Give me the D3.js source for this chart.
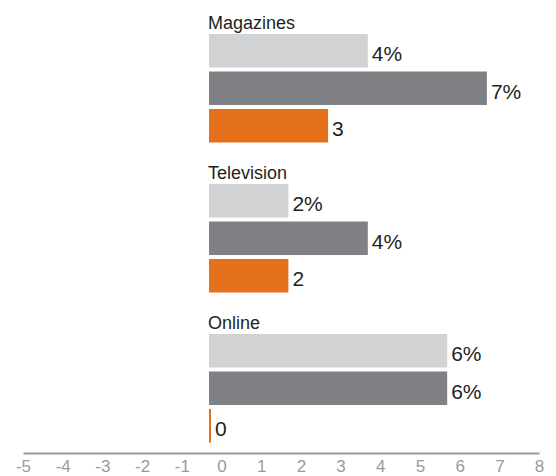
<!DOCTYPE html>
<html>
<head>
<meta charset="utf-8">
<script src="https://cdn.jsdelivr.net/npm/d3@7"></script>
<style>
  html, body { margin: 0; padding: 0; background: #fff; }
  svg { display: block; font-family: "Liberation Sans", Arial, Helvetica, sans-serif; }
</style>
</head>
<body>
<svg id="chart" width="556" height="476"></svg>
<script>
const categories = ["Magazines", "Television", "Online"];
const seriesNames = ["light", "dark", "orange"];
const lightValues = [4, 2, 6];
const darkValues = [7, 4, 6];
const orangeValues = [3, 2, 0];
const tickValues = [-5, -4, -3, -2, -1, 0, 1, 2, 3, 4, 5, 6, 7, 8];
const seriesSuffix = { light: "%", dark: "%", orange: "" };
const colors = { light: "#d1d2d4", dark: "#808184", orange: "#e5711d" };

const seriesValues = { light: lightValues, dark: darkValues, orange: orangeValues };

const svg = d3.select("#chart");

const x = d3.scaleLinear().domain([-5, 8]).range([10.5, 526.6]);

const yGroup = d3.scaleBand().domain(categories).range([34, 484]).paddingInner(0).paddingOuter(0);
const ySeries = d3.scaleBand().domain(seriesNames).range([0, 108.5]).paddingInner(0.1067).paddingOuter(0);

const groups = svg.selectAll("g.group")
  .data(categories)
  .join("g")
  .attr("class", "group")
  .attr("transform", d => `translate(0,${yGroup(d)})`);

groups.append("text")
  .attr("x", x(0) - 1)
  .attr("y", -5)
  .attr("font-size", 18)
  .attr("fill", "#231f20")
  .text(d => d);

groups.each(function(cat, ci) {
  const g = d3.select(this);
  const rows = seriesNames.map(s => ({ s, v: seriesValues[s][ci] }));
  g.selectAll("rect")
    .data(rows)
    .join("rect")
    .attr("x", x(0))
    .attr("y", d => ySeries(d.s))
    .attr("width", d => Math.max(x(d.v) - x(0), 2))
    .attr("height", ySeries.bandwidth())
    .attr("fill", d => colors[d.s]);
  g.selectAll("text.val")
    .data(rows)
    .join("text")
    .attr("class", "val")
    .attr("x", d => x(0) + Math.max(x(d.v) - x(0), 2) + 4)
    .attr("y", d => ySeries(d.s) + ySeries.bandwidth() / 2)
    .attr("dy", "0.5em")
    .attr("font-size", 21)
    .attr("fill", "#231f20")
    .text(d => d.v + seriesSuffix[d.s]);
});

const axis = d3.axisBottom(x)
  .tickValues(tickValues)
  .tickFormat(d => String(d))
  .tickSize(0)
  .tickSizeOuter(0)
  .tickPadding(7);

const axisG = svg.append("g")
  .attr("transform", "translate(12.5,453)")
  .call(axis);
axisG.select(".domain").attr("stroke", "#9a9a9a").attr("stroke-width", 2);
axisG.selectAll(".tick text")
  .attr("font-size", 17)
  .attr("fill", "#9a9a9a")
  .attr("font-family", "\"Liberation Sans\", Arial, Helvetica, sans-serif");
</script>
</body>
</html>
